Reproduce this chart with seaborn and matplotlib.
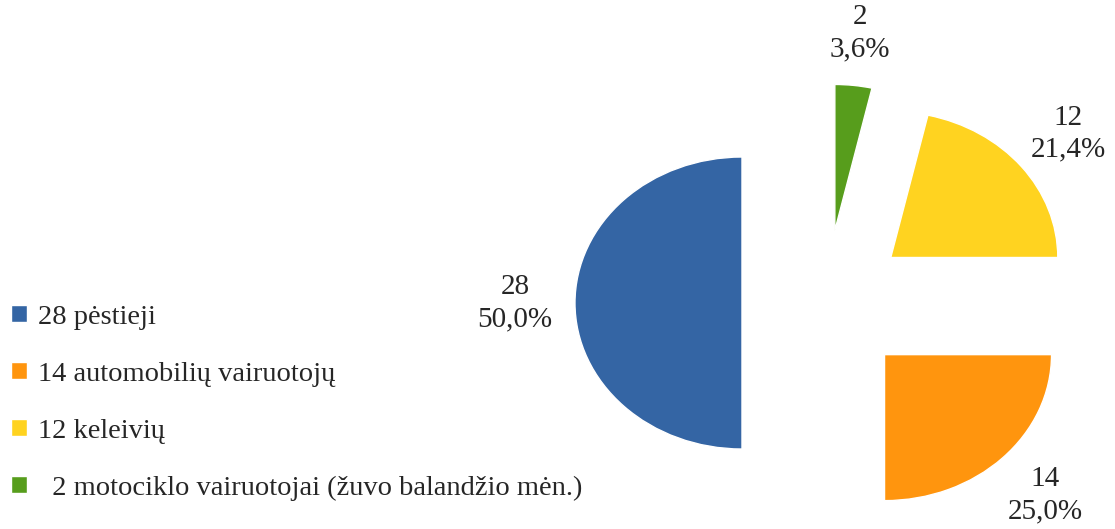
import matplotlib.pyplot as plt
import seaborn as sns

sns.set_theme(style="white")
plt.rcParams['font.family'] = ['Liberation Serif', 'DejaVu Serif']

counts = [28, 14, 12, 2]
legend_labels = ["28 pėstieji", "14 automobilių vairuotojų", "12 keleivių",
                 "  2 motociklo vairuotojai (žuvo balandžio mėn.)"]
colors = ["#3465A4", "#FF950E", "#FFD320", "#579D1C"]

total = sum(counts)
pie_labels = [f"{c}\n{c / total * 100:.1f}".replace('.', ',') + "%" for c in counts]

fig = plt.figure(figsize=(11.15, 5.29), dpi=100)
ax = fig.add_axes([0.5007, -0.0144, 0.4793, 0.8832])

wedges, texts = ax.pie(counts, explode=[0.5] * len(counts), startangle=90,
                       counterclock=True, colors=colors, labels=pie_labels,
                       labeldistance=1.36, textprops={'fontsize': 21})
for t in texts:
    t.set_ha('center')
    t.set_va('center')
    t.set_multialignment('center')
    t.set_linespacing(1.3)

ax.set_aspect('auto')
ax.set_xlim(-1.6, 1.6)
ax.set_ylim(-1.6, 1.6)
ax.axis('off')

fig.legend(wedges, legend_labels, loc='upper left', bbox_to_anchor=(0.0, 0.445),
           frameon=False, fontsize=20.5, handlelength=0.55, handleheight=0.55,
           handletextpad=0.4, labelspacing=1.12, borderaxespad=0)

fig.savefig("out.png", dpi=100)
